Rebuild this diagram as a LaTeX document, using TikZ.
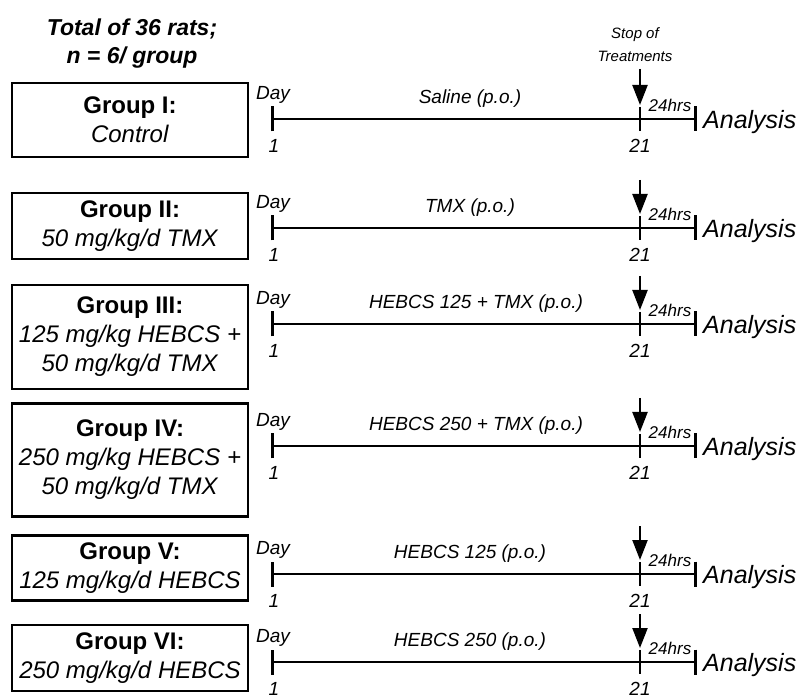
\documentclass[tikz,border=0pt]{standalone}
\usepackage{fontspec}
\setmainfont{Liberation Sans}
\usetikzlibrary{arrows.meta}

\begin{document}
\begin{tikzpicture}[x=1pt, y=-1pt,
  grp/.style={draw, line width=2.5pt, minimum width=236pt, align=center,
              font=\fontsize{24}{29}\selectfont, inner sep=1pt},
  title/.style={align=center, font=\fontsize{23}{28}\selectfont\bfseries\itshape},
  stoplbl/.style={align=center, font=\fontsize{15}{23}\selectfont\itshape},
  tline/.style={line width=2.6pt, {Bar[width=25pt]}-{Bar[width=25pt]}},
  tick/.style={line width=2.6pt},
  stoparrow/.style={-{Triangle[width=15pt,length=20pt]}, line width=2.2pt},
  small/.style={font=\fontsize{19}{19}\selectfont\itshape, inner sep=1pt},
  hrs/.style={font=\fontsize{17}{17}\selectfont\itshape, inner sep=1pt},
  anl/.style={font=\fontsize{25}{25}\selectfont\itshape, anchor=west, inner sep=1pt},
]
\useasboundingbox (0,0) rectangle (801,700);

% Headings
\node[title] (total) at (132,44) {Total of 36 rats;\\n = 6/ group};
\node[stoplbl] (stop) at (635,45) {Stop of\\Treatments};

% Group I
\node[grp, minimum height=74pt] (g1) at (130,120) {\textbf{Group I:}\\\textit{Control}};
\coordinate (a1) at (271,119);
\coordinate (b1) at (640,119);
\coordinate (c1) at (697,119);
\coordinate (s1) at (640,69);
\draw[tline] (a1) -- (c1);
\draw[tick] ([yshift=12pt]b1) -- ([yshift=-12pt]b1);
\draw[stoparrow] (s1) -- ([yshift=14pt]b1);
\node[small] (day1) at (273,95) {Day};
\node[small] (one1) at (274,146) {1};
\node[small] (tw1) at (640,146) {21};
\node[small] (trt1) at (470,99) {Saline (p.o.)};
\node[hrs] (hrs1) at (670,105) {24hrs};
\node[anl] (an1) at (702,122) {Analysis};

% Group II
\node[grp, minimum height=66pt] (g2) at (130,226) {\textbf{Group II:}\\\textit{50 mg/kg/d TMX}};
\coordinate (a2) at (271,228);
\coordinate (b2) at (640,228);
\coordinate (c2) at (697,228);
\coordinate (s2) at (640,180);
\draw[tline] (a2) -- (c2);
\draw[tick] ([yshift=12pt]b2) -- ([yshift=-12pt]b2);
\draw[stoparrow] (s2) -- ([yshift=14pt]b2);
\node[small] (day2) at (273,204) {Day};
\node[small] (one2) at (274,255) {1};
\node[small] (tw2) at (640,255) {21};
\node[small] (trt2) at (470,208) {TMX (p.o.)};
\node[hrs] (hrs2) at (670,214) {24hrs};
\node[anl] (an2) at (702,231) {Analysis};

% Group III
\node[grp, minimum height=104pt] (g3) at (130,337) {\textbf{Group III:}\\\textit{125 mg/kg HEBCS +}\\\textit{50 mg/kg/d TMX}};
\coordinate (a3) at (271,324);
\coordinate (b3) at (640,324);
\coordinate (c3) at (697,324);
\coordinate (s3) at (640,276);
\draw[tline] (a3) -- (c3);
\draw[tick] ([yshift=12pt]b3) -- ([yshift=-12pt]b3);
\draw[stoparrow] (s3) -- ([yshift=14pt]b3);
\node[small] (day3) at (273,300) {Day};
\node[small] (one3) at (274,351) {1};
\node[small] (tw3) at (640,351) {21};
\node[small] (trt3) at (476,304) {HEBCS 125 + TMX (p.o.)};
\node[hrs] (hrs3) at (670,310) {24hrs};
\node[anl] (an3) at (702,327) {Analysis};

% Group IV
\node[grp, minimum height=113pt] (g4) at (130,460) {\textbf{Group IV:}\\\textit{250 mg/kg HEBCS +}\\\textit{50 mg/kg/d TMX}};
\coordinate (a4) at (271,446);
\coordinate (b4) at (640,446);
\coordinate (c4) at (697,446);
\coordinate (s4) at (640,398);
\draw[tline] (a4) -- (c4);
\draw[tick] ([yshift=12pt]b4) -- ([yshift=-12pt]b4);
\draw[stoparrow] (s4) -- ([yshift=14pt]b4);
\node[small] (day4) at (273,422) {Day};
\node[small] (one4) at (274,473) {1};
\node[small] (tw4) at (640,473) {21};
\node[small] (trt4) at (476,426) {HEBCS 250 + TMX (p.o.)};
\node[hrs] (hrs4) at (670,432) {24hrs};
\node[anl] (an4) at (702,449) {Analysis};

% Group V
\node[grp, minimum height=65pt] (g5) at (130,568) {\textbf{Group V:}\\\textit{125 mg/kg/d HEBCS}};
\coordinate (a5) at (271,574);
\coordinate (b5) at (640,574);
\coordinate (c5) at (697,574);
\coordinate (s5) at (640,526);
\draw[tline] (a5) -- (c5);
\draw[tick] ([yshift=12pt]b5) -- ([yshift=-12pt]b5);
\draw[stoparrow] (s5) -- ([yshift=14pt]b5);
\node[small] (day5) at (273,550) {Day};
\node[small] (one5) at (274,601) {1};
\node[small] (tw5) at (640,601) {21};
\node[small] (trt5) at (470,554) {HEBCS 125 (p.o.)};
\node[hrs] (hrs5) at (670,560) {24hrs};
\node[anl] (an5) at (702,577) {Analysis};

% Group VI
\node[grp, minimum height=66pt] (g6) at (130,658) {\textbf{Group VI:}\\\textit{250 mg/kg/d HEBCS}};
\coordinate (a6) at (271,662);
\coordinate (b6) at (640,662);
\coordinate (c6) at (697,662);
\coordinate (s6) at (640,614);
\draw[tline] (a6) -- (c6);
\draw[tick] ([yshift=12pt]b6) -- ([yshift=-12pt]b6);
\draw[stoparrow] (s6) -- ([yshift=14pt]b6);
\node[small] (day6) at (273,638) {Day};
\node[small] (one6) at (274,689) {1};
\node[small] (tw6) at (640,689) {21};
\node[small] (trt6) at (470,642) {HEBCS 250 (p.o.)};
\node[hrs] (hrs6) at (670,648) {24hrs};
\node[anl] (an6) at (702,665) {Analysis};

\end{tikzpicture}
\end{document}
